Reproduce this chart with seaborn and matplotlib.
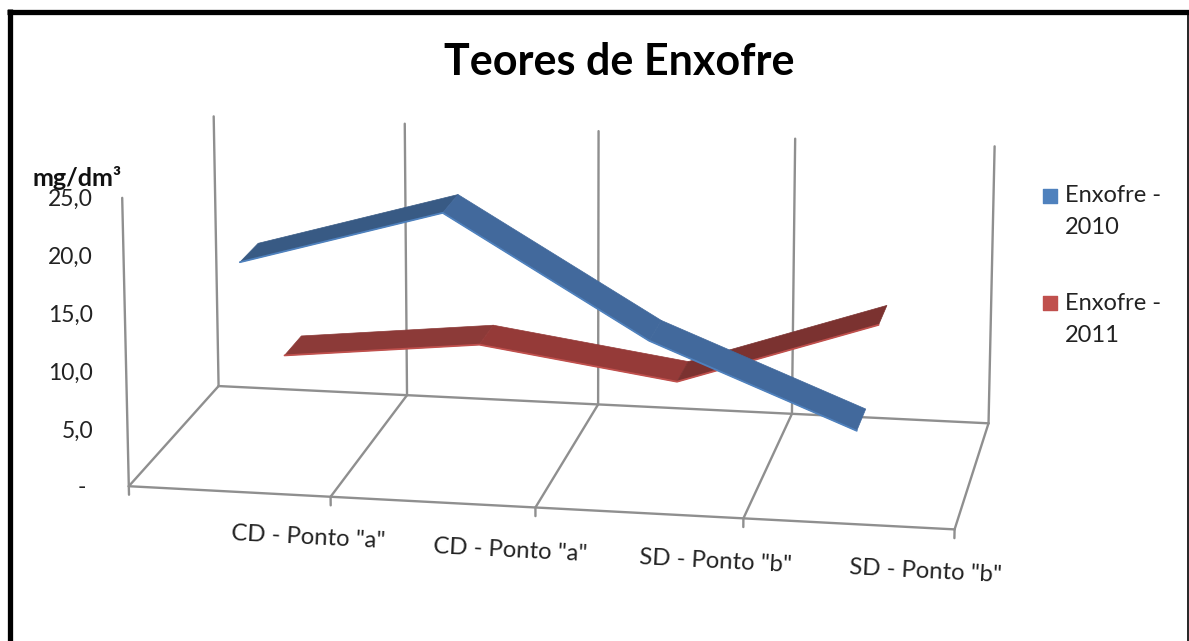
# Teores de Enxofre - linha 3D desenhada com seaborn sobre uma projecao em perspectiva
import numpy as np
import pandas as pd
import seaborn as sns
import matplotlib.pyplot as plt
from matplotlib.patches import Polygon

categorias = ['CD - Ponto "a"', 'CD - Ponto "a"', 'SD - Ponto "b"', 'SD - Ponto "b"']
enxofre_2010 = [18.6, 23.6, 13.4, 6.5]
enxofre_2011 = [6.2, 8.0, 5.5, 11.4]
ticks_y = ['-', '5,0', '10,0', '15,0', '20,0', '25,0']

sns.set_theme(style='white')
plt.rcParams['font.family'] = ['Lato', 'DejaVu Sans']

# calibracao da caixa 3D: (categoria, profundidade, valor) -> pixel
caixa = [(0, 0, 0, 130, 487), (1, 0, 0, 330, 497), (2, 0, 0, 535, 508), (3, 0, 0, 743, 519),
         (4, 0, 0, 955, 528), (0, 1, 0, 218, 385), (1, 1, 0, 407, 395), (2, 1, 0, 598, 405),
         (3, 1, 0, 793, 414), (4, 1, 0, 988, 423), (0, 0, 25, 122, 197), (0, 1, 25, 214, 115),
         (1, 1, 25, 405, 124), (2, 1, 25, 598, 134), (3, 1, 25, 795, 139), (4, 1, 25, 995, 145)]
A, b = [], []
for c, p, v, px, py in caixa:
    A.append([c, p, v, 1, 0, 0, 0, 0, -px * c, -px * p, -px * v])
    A.append([0, 0, 0, 0, c, p, v, 1, -py * c, -py * p, -py * v])
    b += [px, py]
h = np.linalg.lstsq(np.array(A, float), np.array(b, float), rcond=None)[0]


def proj(c, p, v):
    w = h[8] * c + h[9] * p + h[10] * v + 1
    return (h[0] * c + h[1] * p + h[2] * v + h[3]) / w, (h[4] * c + h[5] * p + h[6] * v + h[7]) / w


fig = plt.figure(figsize=(11.89, 6.41), dpi=100)
ax = fig.add_axes([0, 0, 1, 1])
ax.set_xlim(0, 1189)
ax.set_ylim(641, 0)
ax.axis('off')

cinza = '#8f8f8f'


def grade(p1, p2):
    x1, y1 = proj(*p1)
    x2, y2 = proj(*p2)
    ax.plot([x1, x2], [y1, y2], color=cinza, lw=1.7, zorder=1)


# paredes e piso
for i in range(5):
    grade((i, 1, 0), (i, 1, 25))
    grade((i, 0, 0), (i, 1, 0))
    grade((i, 0, 0), (i, 0, -0.75))
grade((0, 0, 0), (4, 0, 0))
grade((0, 1, 0), (4, 1, 0))
grade((0, 0, 0), (0, 0, 25))

# fitas das series
posicoes = [0.5, 1.5, 2.5, 3.5]
series = [('Enxofre - 2011', enxofre_2011, 0.66, ['#8c3a38', '#953a38', '#7b3230'], 3),
          ('Enxofre - 2010', enxofre_2010, 0.16, ['#385a84', '#42699c', '#42699c'], 5)]
largura = 0.21
linhas = []
for nome, valores, prof, cores, z in series:
    for i in range(3):
        canto = [proj(posicoes[i], prof, valores[i]), proj(posicoes[i + 1], prof, valores[i + 1]),
                 proj(posicoes[i + 1], prof + largura, valores[i + 1]), proj(posicoes[i], prof + largura, valores[i])]
        ax.add_patch(Polygon(canto, closed=True, fc=cores[i], ec=cores[i], lw=0.5, zorder=z))
    xs, ys = proj(np.array(posicoes), prof, np.array(valores))
    linhas.append(pd.DataFrame({'x': xs, 'y': ys, 'serie': nome}))

paleta = {'Enxofre - 2010': '#4f81bd', 'Enxofre - 2011': '#c0504d'}
for df in linhas:
    nome = df['serie'][0]
    sns.lineplot(data=df, x='x', y='y', hue='serie', palette=paleta, sort=False, estimator=None,
                 lw=1.3, legend=False, ax=ax, zorder=6 if nome == 'Enxofre - 2010' else 4)
ax.set_xlim(0, 1189)
ax.set_ylim(641, 0)
ax.axis('off')

# textos
ax.text(619, 62, 'Teores de Enxofre', fontsize=31, fontweight='bold', color='black', ha='center', va='center')
ax.text(77, 178, 'mg/dm³', fontsize=18, fontweight='bold', color='#111111', ha='center', va='center')
for i, t in enumerate(ticks_y):
    ypix = 489 - i * 58 if i else 487
    ax.text(93 if i else 86, ypix, t, fontsize=16.5, color='#222222', ha='right', va='center')
for cx, cy, t in zip([308, 510, 716, 926], [538, 551, 562, 572], categorias):
    ax.text(cx, cy, t, fontsize=17.2, color='#222222', ha='center', va='center', rotation=-3)

# legenda
for nome, ypix in zip(['Enxofre - 2010', 'Enxofre - 2011'], [196, 303]):
    ax.scatter([1050], [ypix], s=100, marker='s', color=paleta[nome], zorder=6)
    rotulo, ano = nome.rsplit(' ', 1)
    ax.text(1065, ypix, rotulo, fontsize=17, color='#222222', ha='left', va='center')
    ax.text(1065, ypix + 32, ano, fontsize=17, color='#222222', ha='left', va='center')

# moldura
ax.plot([9.5, 9.5], [641, 9], color='black', lw=3.8, solid_capstyle='butt', zorder=8)
ax.plot([7, 1189], [11.5, 11.5], color='black', lw=3.8, solid_capstyle='butt', zorder=8)
ax.plot([1188, 1188], [11.5, 641], color='black', lw=1.2, zorder=8)

fig.savefig('out.png', dpi=100)
